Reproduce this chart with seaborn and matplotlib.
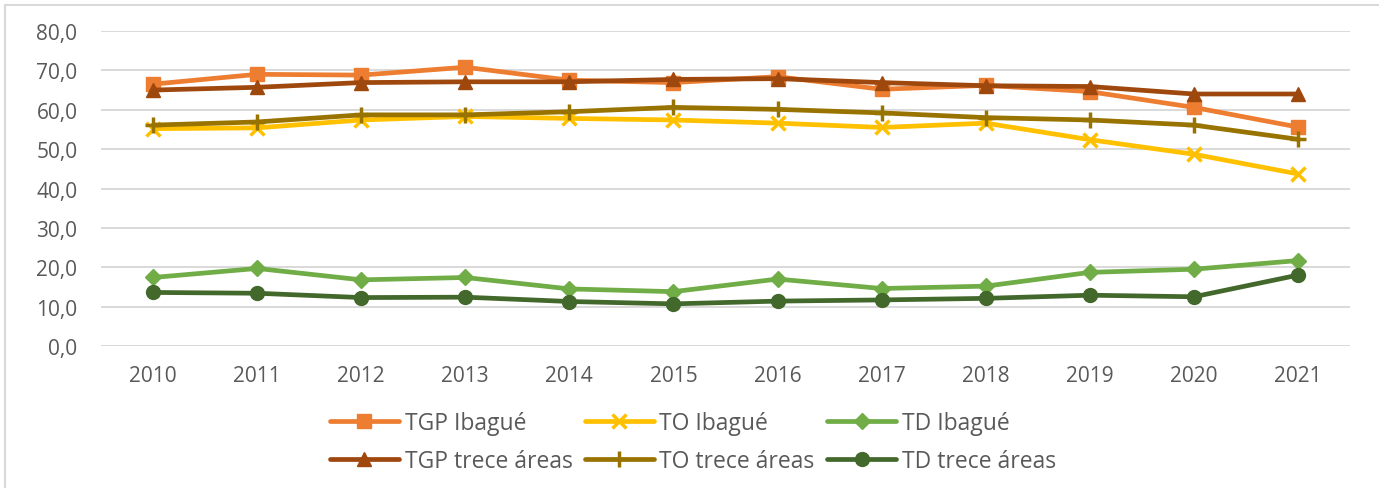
import matplotlib
matplotlib.use("Agg")
import matplotlib.pyplot as plt
import seaborn as sns
import pandas as pd
from matplotlib.lines import Line2D

years = [2010, 2011, 2012, 2013, 2014, 2015, 2016, 2017, 2018, 2019, 2020, 2021]
tgp_ibague = [66.5, 69.0, 68.8, 70.8, 67.5, 66.9, 68.4, 65.2, 66.2, 64.6, 60.6, 55.6]
to_ibague = [55.2, 55.4, 57.4, 58.3, 57.8, 57.4, 56.6, 55.5, 56.6, 52.4, 48.7, 43.7]
td_ibague = [17.4, 19.7, 16.8, 17.4, 14.5, 13.8, 17.0, 14.6, 15.2, 18.7, 19.5, 21.7]
tgp_trece = [65.0, 65.7, 66.9, 67.1, 67.1, 67.7, 67.9, 66.9, 66.1, 65.9, 64.0, 64.0]
to_trece = [56.1, 56.9, 58.7, 58.7, 59.5, 60.6, 60.1, 59.2, 58.0, 57.4, 56.1, 52.5]
td_trece = [13.6, 13.4, 12.3, 12.4, 11.3, 10.7, 11.4, 11.7, 12.1, 12.9, 12.5, 18.0]

series_names = ["TGP Ibagué", "TO Ibagué", "TD Ibagué",
                "TGP trece áreas", "TO trece áreas", "TD trece áreas"]
series_values = [tgp_ibague, to_ibague, td_ibague, tgp_trece, to_trece, td_trece]
colors = ["#ED7D31", "#FFC000", "#70AD47", "#9E480E", "#997300", "#43682B"]
markers = ["s", "x", "D", "^", "+", "o"]
msizes = [10, 10, 8, 10, 11, 10]

sns.set_theme(style="white")
plt.rcParams['font.family'] = ['Open Sans', 'DejaVu Sans']

fig = plt.figure(figsize=(13.79, 4.89), dpi=100)
ax = fig.add_axes([101/1379, 1-347/489, (1350-101)/1379, (347-32)/489])

for name, vals, c, m, ms in zip(series_names, series_values, colors, markers, msizes):
    df = pd.DataFrame({"x": list(range(len(years))), "y": vals})
    sns.lineplot(data=df, x="x", y="y", ax=ax, color=c, linewidth=3.4,
                 marker=m, markersize=ms, markeredgecolor=c,
                 markeredgewidth=2.5 if m in ("x", "+") else 1,
                 label=name, zorder=3)

ax.set_xlim(-0.5, len(years) - 0.5)
ax.set_ylim(0, 80)
ax.set_yticks(range(0, 81, 10))
ax.set_yticklabels([f"{v:.1f}".replace(".", ",") for v in range(0, 81, 10)])
ax.set_xticks(range(len(years)))
ax.set_xticklabels([str(y) for y in years])
ax.tick_params(axis="both", length=0, labelsize=15, labelcolor="#595959")
ax.tick_params(axis="y", pad=17)
ax.tick_params(axis="x", pad=14)
ax.set_xlabel("")
ax.set_ylabel("")
ax.yaxis.grid(True, color="#D9D9D9", linewidth=1.4)
ax.xaxis.grid(False)
ax.set_axisbelow(True)
for s in ax.spines.values():
    s.set_visible(False)

handles, labels = ax.get_legend_handles_labels()
ax.get_legend().remove()
order = [0, 3, 1, 4, 2, 5]
leg = fig.legend([handles[i] for i in order], [labels[i] for i in order],
                 ncol=3, loc="center", bbox_to_anchor=(693/1379, 1-443/489),
                 frameon=False, fontsize=16.5, handlelength=3.0, handletextpad=0.25,
                 columnspacing=0.55, labelspacing=0.6, borderpad=0)
for t in leg.get_texts():
    t.set_color("#595959")

# chart frame (top and left edges visible in the reference)
fig.add_artist(Line2D([5/1379, 1], [1-6/489, 1-6/489], transform=fig.transFigure,
                      color="#D9D9D9", linewidth=1.5))
fig.add_artist(Line2D([5/1379, 5/1379], [0, 1-6/489], transform=fig.transFigure,
                      color="#D9D9D9", linewidth=1.5))

fig.savefig("out.png", dpi=100)
